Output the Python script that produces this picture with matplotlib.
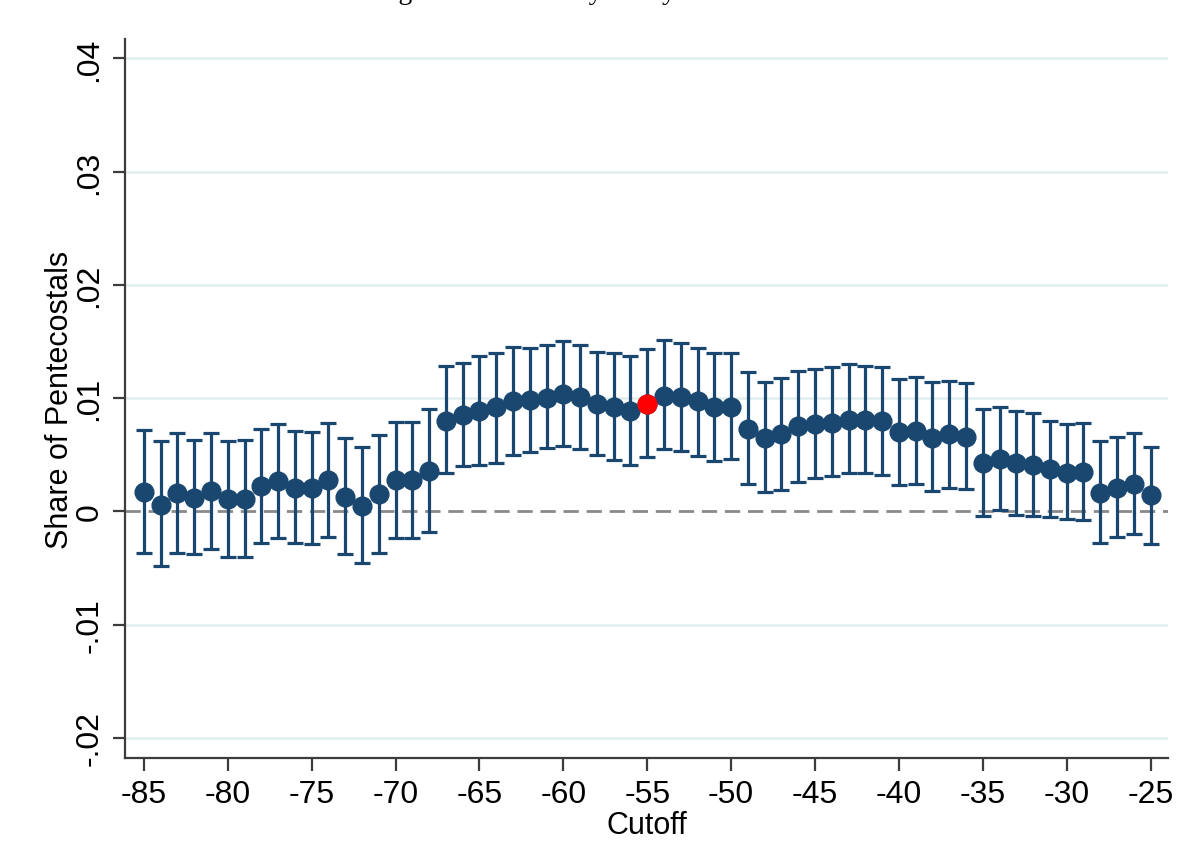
import numpy as np
import matplotlib.pyplot as plt

plt.rcParams['font.family'] = ['Liberation Sans', 'DejaVu Sans']

# Cutoff values and point estimates with 95% CI bounds
cutoff = np.arange(-85, -24)
estimate = [
    0.0017, 0.0006, 0.0016, 0.0012, 0.0018, 0.0011, 0.0011, 0.0022, 0.0027, 0.0021,
    0.0021, 0.0028, 0.0013, 0.0005, 0.0015, 0.0028, 0.0028, 0.0036, 0.0080, 0.0085,
    0.0089, 0.0092, 0.0097, 0.0098, 0.0100, 0.0104, 0.0101, 0.0095, 0.0092, 0.0089,
    0.0095, 0.0102, 0.0101, 0.0097, 0.0092, 0.0092, 0.0073, 0.0065, 0.0068, 0.0075,
    0.0077, 0.0078, 0.0081, 0.0081, 0.0080, 0.0070, 0.0071, 0.0065, 0.0068, 0.0066,
    0.0043, 0.0046, 0.0043, 0.0041, 0.0037, 0.0034, 0.0035, 0.0016, 0.0021, 0.0024,
    0.0014,
]
ci_low = [
    -0.0037, -0.0048, -0.0037, -0.0038, -0.0033, -0.0040, -0.0040, -0.0028, -0.0024, -0.0028,
    -0.0029, -0.0023, -0.0038, -0.0046, -0.0037, -0.0024, -0.0024, -0.0018, 0.0034, 0.0040,
    0.0041, 0.0043, 0.0050, 0.0052, 0.0056, 0.0058, 0.0055, 0.0050, 0.0045, 0.0041,
    0.0048, 0.0055, 0.0053, 0.0049, 0.0044, 0.0046, 0.0024, 0.0017, 0.0019, 0.0026,
    0.0029, 0.0031, 0.0034, 0.0034, 0.0032, 0.0023, 0.0024, 0.0018, 0.0021, 0.0020,
    -0.0004, 0.0001, -0.0003, -0.0004, -0.0005, -0.0007, -0.0008, -0.0028, -0.0023, -0.0020,
    -0.0029,
]
ci_high = [
    0.0072, 0.0062, 0.0069, 0.0063, 0.0069, 0.0062, 0.0063, 0.0073, 0.0077, 0.0071,
    0.0070, 0.0078, 0.0065, 0.0057, 0.0067, 0.0079, 0.0079, 0.0090, 0.0128, 0.0131,
    0.0137, 0.0140, 0.0145, 0.0144, 0.0147, 0.0150, 0.0147, 0.0141, 0.0140, 0.0137,
    0.0143, 0.0151, 0.0149, 0.0144, 0.0140, 0.0140, 0.0123, 0.0114, 0.0118, 0.0124,
    0.0126, 0.0127, 0.0130, 0.0128, 0.0127, 0.0117, 0.0119, 0.0114, 0.0115, 0.0113,
    0.0090, 0.0092, 0.0089, 0.0087, 0.0080, 0.0077, 0.0078, 0.0062, 0.0066, 0.0069,
    0.0057,
]
highlight = -55  # baseline cutoff

yticks = [-0.02, -0.01, 0, 0.01, 0.02, 0.03, 0.04]
ytick_labels = ['-.02', '-.01', '0', '.01', '.02', '.03', '.04']
xticks = np.arange(-85, -24, 5)

navy = '#1a476f'

est = np.array(estimate)
lo = np.array(ci_low)
hi = np.array(ci_high)

fig = plt.figure(figsize=(11.89, 8.53), dpi=100)
ax = fig.add_axes([0.1055, 0.110, 0.877, 0.843])

# light horizontal grid, dashed zero line
for y in yticks:
    if y != 0:
        ax.axhline(y, color='#e3eeef', lw=1.8, zorder=0)
ax.axhline(0, color='#8a8a8a', lw=2, ls=(0, (5.5, 2.8)), zorder=1)

ax.errorbar(cutoff, est, yerr=[est - lo, hi - est], fmt='o', color=navy,
            ecolor=navy, elinewidth=2.3, capsize=5.8, capthick=2.3,
            markersize=13.5, zorder=3)
i = int(np.where(cutoff == highlight)[0][0])
ax.plot(cutoff[i], est[i], 'o', color='#ff0000', markersize=13.5, zorder=4)

ax.set_xlim(-86.1, -23.95)
ax.set_ylim(-0.0218, 0.0417)
ax.set_xticks(xticks)
ax.set_xticklabels([str(x) for x in xticks])
ax.set_yticks(yticks)
ax.set_yticklabels(ytick_labels, rotation=90, va='center')

for side in ['top', 'right']:
    ax.spines[side].set_visible(False)
for side in ['left', 'bottom']:
    ax.spines[side].set_color('#3c3c3c')
    ax.spines[side].set_linewidth(1.6)
ax.tick_params(axis='both', length=9, width=1.6, color='#3c3c3c',
               labelsize=23, pad=6)

ax.set_xlabel('Cutoff', fontsize=22, labelpad=1)
ax.set_ylabel('Share of Pentecostals', fontsize=22, labelpad=0)

fig.text(0.5, 1.0015, 'Figure 5: Sensitivity Analysis of Cutoff', ha='center',
         va='baseline', fontsize=20, family=['Liberation Serif', 'DejaVu Serif'])

fig.savefig('out.png', dpi=100)
